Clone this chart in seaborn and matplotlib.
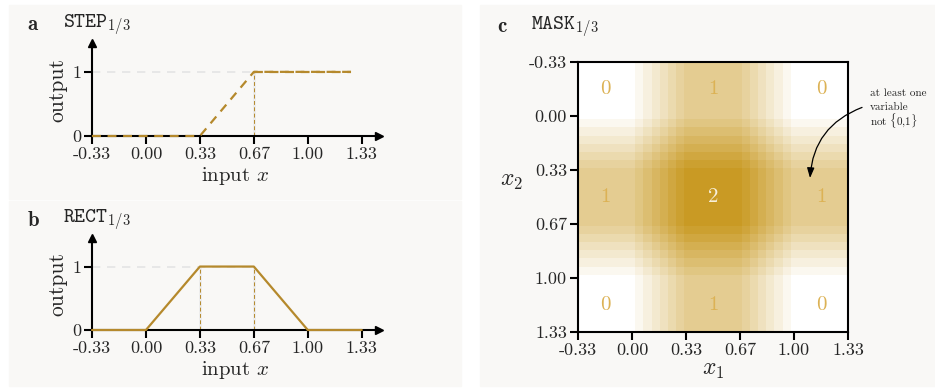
import numpy as np
import pandas as pd
import seaborn as sns
import matplotlib.pyplot as plt
from matplotlib.patches import Rectangle
from matplotlib.colors import LinearSegmentedColormap

# shared ticks
tick_vals = [-1/3, 0, 1/3, 2/3, 1, 4/3]
tick_labels = ["-0.33", "0.00", "0.33", "0.67", "1.00", "1.33"]

# panel a / b curves
step_x = [-1/3, 1/3, 2/3, 1.27]
step_y = [0, 0, 1, 1]
rect_x = [-1/3, 0, 1/3, 2/3, 1, 4/3]
rect_y = [0, 0, 1, 1, 0, 0]

# panel c: 33 cells over [-1/3, 4/3], rect value read per cell
grid_lo, grid_hi, n_cells = -1/3, 4/3, 33
rect_profile = [0, 0, 0, 0, 0, 0, 0,
                0.14, 0.29, 0.44, 0.59, 0.74, 0.89,
                1, 1, 1, 1, 1, 1, 1,
                0.89, 0.74, 0.59, 0.44, 0.29, 0.14,
                0, 0, 0, 0, 0, 0, 0]
region_pos = [-1/6, 1/2, 7/6]
region_vals = [[0, 1, 0],
               [1, 2, 1],
               [0, 1, 0]]
note_lines = ["at least one", "variable", "not $\\{0{,}1\\}$"]

gold = "#b5892c"
guide = "#e4e4e4"
panel_bg = "#f9f8f6"

sns.set_theme(style="ticks")
plt.rcParams["font.family"] = ["cmr10", "DejaVu Serif"]
plt.rcParams["mathtext.fontset"] = "cm"
plt.rcParams["axes.unicode_minus"] = False
plt.rcParams["axes.formatter.use_mathtext"] = True

W, H = 935, 388
fig = plt.figure(figsize=(W / 100, H / 100), dpi=100)
fig.patch.set_facecolor("white")


def px_box(x0, y0, x1, y1):
    # pixel box (top-left origin) -> figure fraction rect
    return [x0 / W, 1 - y1 / H, (x1 - x0) / W, (y1 - y0) / H]


# panel backgrounds
for (x0, y0, x1, y1) in [(9, 5, 461, 199), (9, 201, 461, 386), (480, 5, 935, 386)]:
    fig.patches.append(Rectangle((x0 / W, 1 - y1 / H), (x1 - x0) / W, (y1 - y0) / H,
                                 transform=fig.transFigure, color=panel_bg, zorder=-5))


def line_panel(ax, xs, ys, style, marks):
    ax.set_facecolor("none")
    ax.set_xlim(-1/3, 1.44)
    ax.set_ylim(0, 1.45)
    ax.hlines(1, -1/3, marks[-1], color=guide, lw=1.2, ls=(0, (5, 4)), zorder=1)
    for m in marks:
        ax.vlines(m, 0, 1, color="#ececec", lw=2.0, zorder=1)
        ax.vlines(m, 0, 1, color=gold, lw=0.7, ls=(0, (4, 2.5)), zorder=2)
    sns.lineplot(x=xs, y=ys, ax=ax, color=gold, lw=1.6, linestyle=style,
                 zorder=4, clip_on=False)
    for s in ["top", "right"]:
        ax.spines[s].set_visible(False)
    for s in ["left", "bottom"]:
        ax.spines[s].set_linewidth(1.5)
        ax.spines[s].set_color("black")
    ax.plot(1, 0, ">", color="black", ms=6, transform=ax.transAxes, clip_on=False)
    ax.plot(0, 1, "^", color="black", ms=6, transform=ax.transAxes, clip_on=False)
    ax.set_xticks(tick_vals)
    ax.set_xticklabels(tick_labels)
    ax.set_yticks([0, 1])
    ax.set_yticklabels(["0", "1"])
    ax.tick_params(length=6, width=1.5, labelsize=13, pad=2, color="black")
    ax.set_xlabel("input $x$", fontsize=15, labelpad=2)
    ax.set_ylabel("output", fontsize=15.5, labelpad=3)


axa = fig.add_axes(px_box(92, 43, 379, 136))
line_panel(axa, step_x, step_y, (0, (4, 3)), [2/3])
axa.hlines(1, 2/3, step_x[-1], color=gold, lw=1.6, ls=(0, (4, 3)), zorder=4)

axb = fig.add_axes(px_box(92, 238, 379, 330))
line_panel(axb, rect_x, rect_y, "-", [1/3, 2/3])

# panel c heatmap
mask = np.add.outer(np.array(rect_profile), np.array(rect_profile))
mask_df = pd.DataFrame(mask)
cmap = LinearSegmentedColormap.from_list("gold", ["#ffffff", "#c99a24"])

axc = fig.add_axes(px_box(578, 62, 848, 332))
sns.heatmap(mask_df, ax=axc, cmap=cmap, vmin=0, vmax=2, cbar=False,
            xticklabels=False, yticklabels=False, linewidths=0, rasterized=True)


def to_cell(v):
    return (v - grid_lo) / (grid_hi - grid_lo) * n_cells


for s in axc.spines.values():
    s.set_visible(True)
    s.set_linewidth(1.5)
    s.set_color("black")
axc.set_xticks([to_cell(v) for v in tick_vals])
axc.set_xticklabels(tick_labels, rotation=0)
axc.set_yticks([to_cell(v) for v in tick_vals])
axc.set_yticklabels(tick_labels, rotation=0)
axc.tick_params(bottom=True, left=True, length=6, width=1.5, labelsize=13, pad=2,
                color="black")
axc.set_xlabel("$x_1$", fontsize=17, labelpad=0)
axc.set_ylabel("$x_2$", fontsize=17, rotation=0, labelpad=4)
axc.yaxis.set_label_coords(-0.245, 0.52)

for i, yv in enumerate(region_pos):
    for j, xv in enumerate(region_pos):
        val = region_vals[i][j]
        axc.text(to_cell(xv), to_cell(yv), str(val), ha="center", va="center",
                 fontsize=15, color="#f7efda" if val == 2 else "#dcb255")

axc.annotate("", xy=(to_cell(1.099), to_cell(0.383)), xytext=(to_cell(1.42), to_cell(-0.053)),
             arrowprops=dict(arrowstyle="-|>,head_length=0.5,head_width=0.18", lw=0.9,
                             color="black", connectionstyle="arc3,rad=0.32",
                             shrinkA=0, shrinkB=0), annotation_clip=False)
for k, line in enumerate(note_lines):
    fig.text(870 / W, 1 - (93 + 14 * k) / H, line, fontsize=8, ha="left",
             va="baseline" if False else "center", color="#222222")

# panel titles
fig.text(27 / W, 1 - 25 / H, r"$\mathbf{a}$", fontsize=15, va="center")
fig.text(63 / W, 1 - 25 / H, r"$\mathtt{STEP}_{\mathtt{1/3}}$", fontsize=15, va="center")
fig.text(27 / W, 1 - 220 / H, r"$\mathbf{b}$", fontsize=15, va="center")
fig.text(63 / W, 1 - 220 / H, r"$\mathtt{RECT}_{\mathtt{1/3}}$", fontsize=15, va="center")
fig.text(497 / W, 1 - 27 / H, r"$\mathbf{c}$", fontsize=15, va="center")
fig.text(531 / W, 1 - 27 / H, r"$\mathtt{MASK}_{\mathtt{1/3}}$", fontsize=15, va="center")

fig.savefig("out.png", dpi=100, facecolor="white")
